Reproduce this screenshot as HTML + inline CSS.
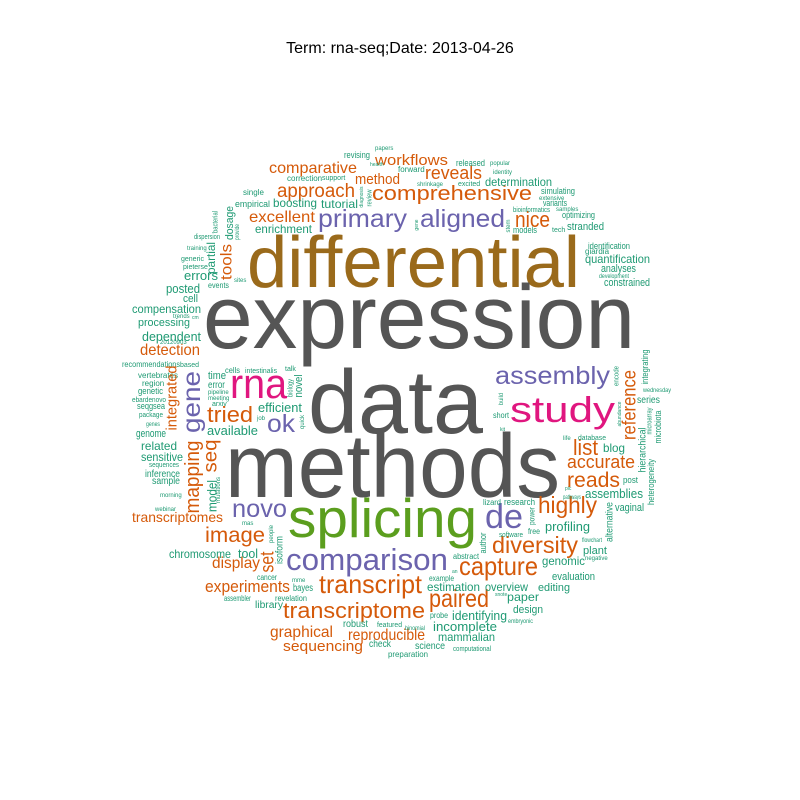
<!DOCTYPE html>
<html><head><meta charset="utf-8"><title>Word cloud: rna-seq</title>
<style>
html,body{margin:0;padding:0;background:#fff;}
svg{display:block;}
text{font-family:"Liberation Sans",Arial,sans-serif;}
</style></head>
<body>
<svg id="cloud" width="800" height="800" viewBox="0 0 800 800" xmlns="http://www.w3.org/2000/svg">
<rect width="800" height="800" fill="#ffffff"/>
<text x="400" y="53" text-anchor="middle" font-size="16" fill="#000">Term: rna-seq;Date: 2013-04-26</text>
<g id="words"></g>
</svg>
<script>
const palette = {g:"#555555", b:"#9a6a1b", s:"#5b9e1e", p:"#6b63ad", m:"#e0167f", o:"#d55a0a", t:"#1f9a73"};
// horizontal words: text, left x, baseline y, width (0 = natural), font size, colour
const hWords = [
["differential",247,287,333,72,"b"],
["expression",203,348,432,90,"g"],
["data",308,433,175,90,"g"],
["methods",225,497,335,90,"g"],
["splicing",288,537,189,55,"s"],
["rna",230,398,57,42,"m"],
["study",510,422,105,36,"m"],
["assembly",495,384,115,25,"p"],
["aligned",420,227,85,25,"p"],
["primary",318,227,89,25,"p"],
["nice",515,227,35,22,"o"],
["comparison",286,570,162,31,"p"],
["de",485,528,38,34,"p"],
["novo",232,517,55,25,"p"],
["ok",267,432,28,25,"p"],
["comprehensive",372,200,160,20,"o"],
["reveals",425,179,57,18,"o"],
["workflows",375,165,73,15,"o"],
["method",355,184,45,15,"o"],
["approach",277,197,78,19,"o"],
["comparative",269,173,88,16,"o"],
["excellent",249,222,66,16,"o"],
["detection",140,355,60,16,"o"],
["tried",207,422,46,22,"o"],
["image",205,542,60,21,"o"],
["transcriptomes",132,522,91,14,"o"],
["experiments",205,592,85,17,"o"],
["display",212,568,48,16,"o"],
["transcript",319,593,103,26,"o"],
["transcriptome",283,618,142,22,"o"],
["graphical",270,637,63,16,"o"],
["sequencing",283,651,80,15,"o"],
["reproducible",348,640,77,16,"o"],
["capture",459,575,79,26,"o"],
["paired",429,607,60,25,"o"],
["diversity",492,553,86,23,"o"],
["highly",538,513,59,23,"o"],
["list",573,455,25,22,"o"],
["accurate",567,468,68,18,"o"],
["reads",567,487,53,21,"o"],
["tutorial",321,208,37,12,"t"],
["boosting",273,207,44,12,"t"],
["empirical",235,207,35,9,"t"],
["enrichment",255,233,57,12,"t"],
["single",243,195,0,8,"t"],
["correction",287,181,0,8,"t"],
["support",322,180,0,7,"t"],
["revising",344,158,26,9,"t"],
["papers",375,150,0,6,"t"],
["health",370,166,0,5,"t"],
["forward",398,172,0,8,"t"],
["released",456,166,29,9,"t"],
["popular",490,165,0,6,"t"],
["identity",493,174,0,6,"t"],
["shrinkage",417,186,0,6,"t"],
["excited",458,186,0,7,"t"],
["determination",485,186,67,12,"t"],
["simulating",541,194,34,9,"t"],
["extensive",539,200,0,6,"t"],
["variants",543,206,24,9,"t"],
["bioinformatics",513,212,37,7,"t"],
["samples",556,211,0,6,"t"],
["optimizing",562,218,33,9,"t"],
["models",513,233,24,9,"t"],
["tech",552,232,0,7,"t"],
["stranded",567,230,37,11,"t"],
["identification",588,249,42,9,"t"],
["giardia",585,254,0,8,"t"],
["quantification",585,263,65,12,"t"],
["analyses",601,272,35,11,"t"],
["development",599,278,30,6,"t"],
["constrained",604,286,46,11,"t"],
["dispersion",194,239,26,7,"t"],
["training",187,250,0,6,"t"],
["generic",181,261,0,7,"t"],
["pieterse",183,269,0,7,"t"],
["errors",184,280,34,13,"t"],
["events",208,288,21,8,"t"],
["sites",234,282,0,6,"t"],
["posted",166,293,34,13,"t"],
["cell",183,302,15,11,"t"],
["compensation",132,313,69,12,"t"],
["trends",173,318,0,6,"t"],
["cm",192,319,0,5,"t"],
["processing",138,326,52,11,"t"],
["dependent",142,341,59,13,"t"],
["20120903",160,344,0,6,"t"],
["recommendations",122,367,58,8,"t"],
["based",180,367,0,7,"t"],
["cells",225,373,15,8,"t"],
["intestinalis",245,373,32,7,"t"],
["talk",285,371,0,7,"t"],
["vertebrates",138,378,0,8,"t"],
["time",208,379,18,11,"t"],
["region",142,386,0,8,"t"],
["error",208,388,17,10,"t"],
["genetic",138,394,25,9,"t"],
["pipeline",208,394,0,6,"t"],
["meeting",208,400,0,6,"t"],
["ebardenovo",132,402,34,7,"t"],
["arxiv",212,406,0,7,"t"],
["seqgsea",137,409,28,9,"t"],
["efficient",258,412,44,13,"t"],
["package",139,417,24,7,"t"],
["job",257,420,0,6,"t"],
["genes",146,426,14,6,"t"],
["available",207,435,51,13,"t"],
["genome",136,437,30,11,"t"],
["related",141,450,36,12,"t"],
["sensitive",141,461,42,12,"t"],
["sequences",149,467,30,7,"t"],
["inference",145,477,35,10,"t"],
["sample",152,484,28,10,"t"],
["morning",160,497,0,6,"t"],
["webinar",155,511,0,6,"t"],
["mas",242,525,0,6,"t"],
["chromosome",169,558,62,12,"t"],
["tool",238,558,20,13,"t"],
["cancer",257,580,20,8,"t"],
["mme",292,582,0,6,"t"],
["bayes",293,591,20,10,"t"],
["assembler",224,601,27,8,"t"],
["revelation",275,601,32,8,"t"],
["library",255,608,28,10,"t"],
["robust",343,627,25,10,"t"],
["featured",377,627,25,7,"t"],
["check",369,647,22,10,"t"],
["preparation",388,657,40,8,"t"],
["short",493,418,16,8,"t"],
["kit",500,431,0,5,"t"],
["wednesday",643,392,28,6,"t"],
["series",637,403,23,10,"t"],
["life",563,440,0,6,"t"],
["database",578,440,28,7,"t"],
["blog",603,452,22,12,"t"],
["post",623,483,15,9,"t"],
["pic",565,490,0,5,"t"],
["pathways",563,499,18,6,"t"],
["assemblies",585,498,58,13,"t"],
["vaginal",615,511,29,11,"t"],
["lizard",483,505,18,8,"t"],
["research",504,505,31,9,"t"],
["software",499,537,24,7,"t"],
["free",528,534,12,8,"t"],
["profiling",545,531,45,13,"t"],
["flowchart",582,542,20,6,"t"],
["plant",583,554,24,11,"t"],
["negative",585,560,0,6,"t"],
["genomic",542,565,43,12,"t"],
["abstract",453,559,26,8,"t"],
["an",452,573,0,5,"t"],
["example",429,581,25,8,"t"],
["evaluation",552,580,43,11,"t"],
["estimation",427,591,53,12,"t"],
["overview",485,591,43,12,"t"],
["editing",538,591,32,11,"t"],
["snote",495,596,0,5,"t"],
["paper",507,601,32,12,"t"],
["design",513,613,30,11,"t"],
["probe",430,618,18,8,"t"],
["identifying",452,620,55,13,"t"],
["embryonic",508,623,25,6,"t"],
["incomplete",433,631,64,13,"t"],
["binomial",405,630,20,6,"t"],
["mammalian",438,641,57,12,"t"],
["science",415,649,30,10,"t"],
["computational",453,651,38,7,"t"]
];
// vertical words (read bottom-to-top): text, centre x, centre y, length, font size, colour
const vWords = [
["gene",192,402,62,25,"p"],
["mapping",193,477,73,20,"o"],
["seq",211,456,33,19,"o"],
["integrated",172,398,65,15,"o"],
["tools",227,262,36,16,"o"],
["reference",630,405,70,19,"o"],
["set",268,562,21,19,"o"],
["model",212,496,32,13,"t"],
["mutations",219,490,26,6,"t"],
["partial",211,258,32,12,"t"],
["dosage",230,223,34,11,"t"],
["bacterial",216,222,22,7,"t"],
["provide",238,232,16,6,"t"],
["review",370,198,17,7,"t"],
["diagnosis",362,197,0,5,"t"],
["stem",509,226,0,6,"t"],
["gene",417,225,0,5,"t"],
["novel",299,386,23,11,"t"],
["biology",291,388,18,7,"t"],
["quick",303,422,0,6,"t"],
["isoform",280,550,28,10,"t"],
["people",272,534,0,6,"t"],
["build",502,399,12,6,"t"],
["power",532,516,18,8,"t"],
["author",483,543,21,9,"t"],
["alternative",610,522,40,10,"t"],
["hierarchical",643,450,45,10,"t"],
["integrating",645,367,35,9,"t"],
["encode",617,376,20,7,"t"],
["heterogeneity",651,482,46,9,"t"],
["microarray",650,421,27,7,"t"],
["microbiota",658,427,33,9,"t"],
["abundance",620,414,25,5,"t"]
];
const NS = "http://www.w3.org/2000/svg";
const g = document.getElementById("words");
hWords.forEach(function(w){
  const t = document.createElementNS(NS, "text");
  t.setAttribute("x", w[1]);
  t.setAttribute("y", w[2]);
  t.setAttribute("font-size", w[4]);
  t.setAttribute("fill", palette[w[5]]);
  if (w[3] > 0) { t.setAttribute("textLength", w[3]); t.setAttribute("lengthAdjust", "spacingAndGlyphs"); }
  t.textContent = w[0];
  
  
  g.appendChild(t);
});
vWords.forEach(function(w){
  const t = document.createElementNS(NS, "text");
  t.setAttribute("x", w[1]);
  t.setAttribute("y", w[2]);
  t.setAttribute("font-size", w[4]);
  t.setAttribute("fill", palette[w[5]]);
  t.setAttribute("text-anchor", "middle");
  t.setAttribute("dominant-baseline", "central");
  t.setAttribute("transform", "rotate(-90 " + w[1] + " " + w[2] + ")");
  if (w[3] > 0) { t.setAttribute("textLength", w[3]); t.setAttribute("lengthAdjust", "spacingAndGlyphs"); }
  t.textContent = w[0];
  
  
  g.appendChild(t);
});
</script>
</body></html>
